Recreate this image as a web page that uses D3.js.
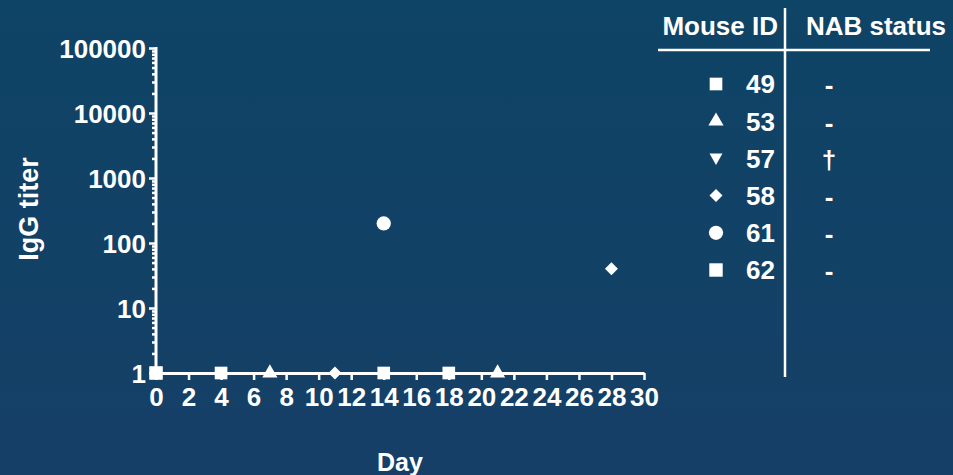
<!DOCTYPE html>
<html><head><meta charset="utf-8">
<script src="https://cdn.jsdelivr.net/npm/d3@7/dist/d3.min.js"></script>
<style>html,body{margin:0;padding:0;background:#11426a;}svg{display:block;}</style>
</head><body>
<svg id="chart" width="953" height="475"></svg>
<script>
// ---- data ----
const mouseIds = ["49", "53", "57", "58", "61", "62"];
const nabStatus = ["-", "-", "\u2020", "-", "-", "-"];
const symbols = ["square", "triangle", "triangleDown", "diamond", "circle", "squareBig"];
const series49 = [[0, 1], [4, 1], [14, 1], [18, 1]];
const series53 = [[7, 1], [21, 1]];
const series57 = [[0, 1]];
const series58 = [[11, 1], [28, 40]];
const series61 = [[14, 200]];
const series62 = [[0, 1]];
const xTicks = [0, 2, 4, 6, 8, 10, 12, 14, 16, 18, 20, 22, 24, 26, 28, 30];
const yTicks = [1, 10, 100, 1000, 10000, 100000];
const xLabel = "Day";
const yLabel = "IgG titer";

const seriesAll = [series49, series53, series57, series58, series61, series62];

const svg = d3.select("#chart");
const defs = svg.append("defs");
const grad = defs.append("linearGradient").attr("id", "bg").attr("x1", 0).attr("y1", 0).attr("x2", 0).attr("y2", 1);
grad.append("stop").attr("offset", "0%").attr("stop-color", "#0e4466");
grad.append("stop").attr("offset", "100%").attr("stop-color", "#163f67");
svg.append("rect").attr("width", 953).attr("height", 475).attr("fill", "url(#bg)");

const font = "'Liberation Sans', Arial, sans-serif";
const x = d3.scaleLinear().domain([0, 30]).range([156, 644]);
const y = d3.scaleLog().domain([1, 100000]).range([373, 48]);

function symPath(kind) {
  switch (kind) {
    case "square": return d3.symbol(d3.symbolSquare, 160)();
    case "squareBig": return d3.symbol(d3.symbolSquare, 180)();
    case "triangle": return d3.symbol(d3.symbolTriangle, 100)();
    case "triangleDown": return "M-6.5,-5L6.5,-5L0,6.5Z";
    case "diamond": return "M0,-6.5L6.5,0L0,6.5L-6.5,0Z";
    case "circle": return d3.symbol(d3.symbolCircle, 160)();
  }
}

// Y axis
const yMinor = [];
for (let e = 0; e < 5; e++) for (let m = 2; m <= 9; m++) yMinor.push(m * Math.pow(10, e));
const yAx = svg.append("g").attr("transform", "translate(156,0)");
yAx.call(d3.axisLeft(y).tickValues(yMinor).tickSize(4).tickFormat(""));
yAx.call(g => g.select(".domain").remove());
const yAxMaj = svg.append("g").attr("transform", "translate(156,0)");
yAxMaj.call(d3.axisLeft(y).tickValues(yTicks).tickSize(7).tickPadding(3).tickFormat(d3.format("d")).tickSizeOuter(0));
svg.selectAll("g.tick line").attr("stroke", "#fff").attr("stroke-width", 2.5);
yAxMaj.select(".domain").attr("stroke", "#fff").attr("stroke-width", 3).attr("d", "M0," + y(1) + "V" + (y(100000) - 1));
yAxMaj.selectAll("text").attr("fill", "#fff").attr("font-family", font).attr("font-weight", "bold").attr("font-size", 26).attr("dy", "0.36em");

// X axis
const xAx = svg.append("g").attr("transform", "translate(0," + y(1) + ")");
xAx.call(d3.axisBottom(x).tickValues(xTicks).tickSize(7).tickPadding(6).tickSizeOuter(0));
xAx.select(".domain").attr("stroke", "#fff").attr("stroke-width", 3);
xAx.selectAll("line").attr("stroke", "#fff").attr("stroke-width", 2.5);
xAx.selectAll("text").attr("fill", "#fff").attr("font-family", font).attr("font-weight", "bold").attr("font-size", 26).attr("dy", "0.75em");

// axis labels
svg.append("text").attr("x", 400).attr("y", 471).attr("text-anchor", "middle")
  .attr("fill", "#fff").attr("font-family", font).attr("font-weight", "bold").attr("font-size", 25).text(xLabel);
svg.append("text").attr("transform", "translate(38,209) rotate(-90)").attr("text-anchor", "middle")
  .attr("fill", "#fff").attr("font-family", font).attr("font-weight", "bold").attr("font-size", 27).text(yLabel);

// points
seriesAll.forEach((s, i) => {
  svg.append("g").selectAll("path").data(s).join("path")
    .attr("transform", d => "translate(" + x(d[0]) + "," + y(d[1]) + ")")
    .attr("d", symPath(symbols[i])).attr("fill", "#fff");
});

// legend table
const lg = svg.append("g");
lg.append("line").attr("x1", 785).attr("x2", 785).attr("y1", 8).attr("y2", 377).attr("stroke", "#fff").attr("stroke-width", 2.5);
lg.append("line").attr("x1", 658).attr("x2", 930).attr("y1", 50).attr("y2", 50).attr("stroke", "#fff").attr("stroke-width", 2.5);
lg.append("text").attr("x", 778).attr("y", 35).attr("text-anchor", "end").attr("fill", "#fff")
  .attr("font-family", font).attr("font-weight", "bold").attr("font-size", 26).text("Mouse ID");
lg.append("text").attr("x", 876).attr("y", 35).attr("text-anchor", "middle").attr("fill", "#fff")
  .attr("font-family", font).attr("font-weight", "bold").attr("font-size", 26).text("NAB status");
const rowY = d3.scaleLinear().domain([0, 5]).range([84, 270]);
mouseIds.forEach((id, i) => {
  const cy = rowY(i);
  lg.append("path").attr("transform", "translate(716," + cy + ")").attr("d", symPath(symbols[i])).attr("fill", "#fff");
  lg.append("text").attr("x", 775).attr("y", cy).attr("dy", "0.36em").attr("text-anchor", "end").attr("fill", "#fff")
    .attr("font-family", font).attr("font-weight", "bold").attr("font-size", 26).text(id);
  lg.append("text").attr("x", 829).attr("y", cy).attr("dy", "0.4em").attr("text-anchor", "middle").attr("fill", "#fff")
    .attr("font-family", font).attr("font-weight", "bold").attr("font-size", 26).text(nabStatus[i]);
});
</script>
</body></html>
